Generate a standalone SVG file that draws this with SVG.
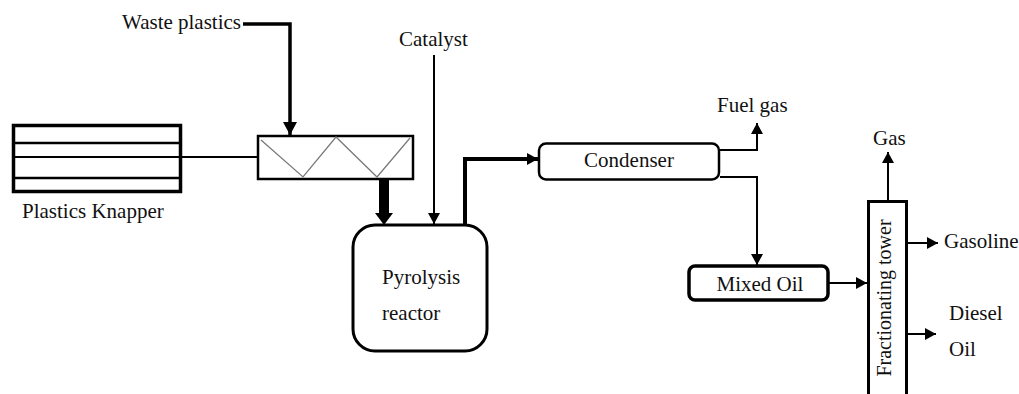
<svg xmlns="http://www.w3.org/2000/svg" width="1019" height="394" viewBox="0 0 1019 394" font-family="'Liberation Serif', 'Times New Roman', 'DejaVu Serif', serif">
<style>
text{font-family:'Liberation Serif','Times New Roman','DejaVu Serif',serif;font-size:21px;fill:#111}
.ln{fill:none;stroke:#000;stroke-width:2}
.box{fill:#fff;stroke:#000}
</style>
<defs>
<marker id="ah" markerUnits="userSpaceOnUse" markerWidth="12" markerHeight="12" refX="11" refY="6" orient="auto"><path d="M0,0 L11,6 L0,12 Z" fill="#000"/></marker>
<marker id="ahm" markerUnits="userSpaceOnUse" markerWidth="14" markerHeight="14" refX="13" refY="7" orient="auto"><path d="M0,0 L13,7 L0,14 Z" fill="#000"/></marker>
</defs>
<rect width="1019" height="394" fill="#fff"/>

<g id="knapper">
<rect class="box" x="13.5" y="125.5" width="167" height="66" stroke-width="3.5"/>
<line x1="13" y1="143" x2="181" y2="143" stroke="#000" stroke-width="2.5"/>
<line x1="13" y1="178" x2="181" y2="178" stroke="#000" stroke-width="2.5"/>
<text x="22" y="218">Plastics Knapper</text>
</g>

<g id="screw">
<rect class="box" x="258" y="136" width="155" height="43" stroke-width="2.5"/>
<polyline points="261,140 303,177 336,137 377,177 410,138" fill="none" stroke="#777" stroke-width="1.2"/>
</g>

<g id="reactor">
<rect class="box" x="353" y="225" width="134" height="126" rx="22" stroke-width="3"/>
<text x="382" y="284">Pyrolysis</text>
<text x="382" y="320">reactor</text>
</g>

<g id="condenser">
<rect class="box" x="539" y="143.5" width="180" height="36" rx="7" stroke-width="2.5"/>
<text x="629" y="167" text-anchor="middle">Condenser</text>
</g>

<g id="mixed-oil">
<rect class="box" x="689" y="266" width="139" height="34" rx="6" stroke-width="3.5"/>
<text x="760" y="291" text-anchor="middle">Mixed Oil</text>
</g>

<g id="tower">
<rect class="box" x="868.5" y="201.5" width="38" height="200" stroke-width="3"/>
<text transform="translate(891,298) rotate(-90)" text-anchor="middle" style="font-size:20px">Fractionating tower</text>
</g>

<g id="labels">
<text x="122" y="29">Waste plastics</text>
<text x="399" y="46">Catalyst</text>
<text x="717" y="112">Fuel gas</text>
<text x="873" y="145">Gas</text>
<text x="944" y="248">Gasoline</text>
<text x="949" y="320">Diesel</text>
<text x="949" y="356">Oil</text>
</g>

<g id="connectors">
<line x1="13" y1="157" x2="258" y2="157" stroke="#000" stroke-width="2"/>
<path d="M243,24 H290 V135" fill="none" stroke="#000" stroke-width="3.5" marker-end="url(#ahm)"/>
<line x1="384" y1="180" x2="384" y2="214" stroke="#000" stroke-width="10"/>
<path d="M375,213 L393,213 L384,225 Z" fill="#000"/>
<path d="M434,55 V224" class="ln" marker-end="url(#ah)"/>
<path d="M465,224 V159 H538" fill="none" stroke="#000" stroke-width="4" marker-end="url(#ah)"/>
<path d="M720,150 H757 V123" class="ln" marker-end="url(#ah)"/>
<path d="M720,177 H757 V265" class="ln" marker-end="url(#ah)"/>
<path d="M829,283 H867" class="ln" marker-end="url(#ah)"/>
<path d="M888,201 V152" class="ln" marker-end="url(#ah)"/>
<path d="M907,243 H938" class="ln" marker-end="url(#ah)"/>
<path d="M907,334 H936" class="ln" marker-end="url(#ah)"/>
</g>
</svg>
